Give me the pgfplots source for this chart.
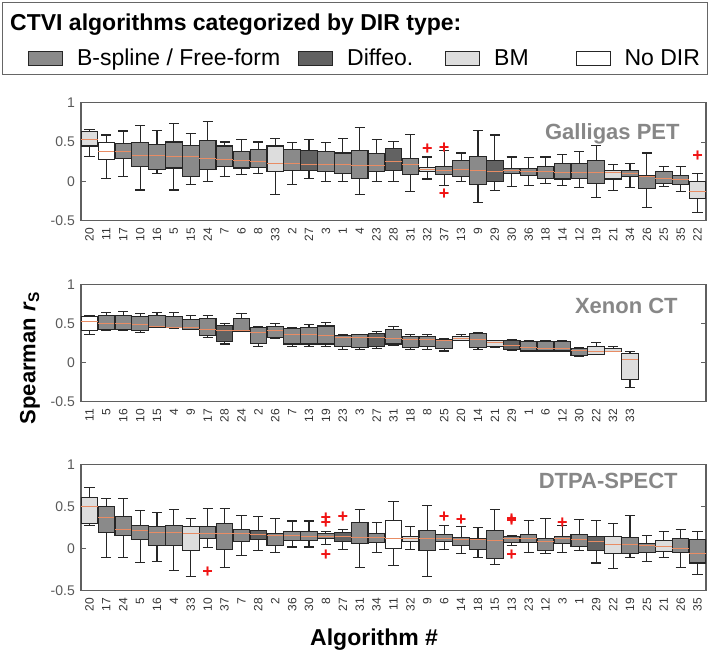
\documentclass[border=0pt]{standalone}
\usepackage{fontspec}
\setmainfont{Liberation Sans}
\usepackage{pgfplots}
\pgfplotsset{compat=1.18}
\usepgfplotslibrary{statistics}

\definecolor{bsp}{RGB}{138,138,138}
\definecolor{dif}{RGB}{98,98,98}
\definecolor{bm}{RGB}{221,221,221}
\definecolor{nod}{RGB}{255,255,255}
\definecolor{medc}{RGB}{232,140,100}
\definecolor{frm}{RGB}{95,95,95}
\definecolor{ttl}{RGB}{135,135,135}
\definecolor{outc}{RGB}{240,20,20}

% one prepared box: position, lower whisker, Q1, median, Q3, upper whisker, fill
\newcommand{\bx}[7]{\addplot[draw=black!85, line width=1.1pt,
  boxplot prepared={draw position=#1, lower whisker=#2, lower quartile=#3,
    median=#4, upper quartile=#5, upper whisker=#6,
    every box/.style={draw=black!85, fill=#7}}] coordinates {};}

\pgfplotsset{
  boxplot/draw direction=y,
  boxplot/box extend=0.98,
  boxplot/whisker extend=0.6,
  boxplot/every median/.style={draw=medc, line width=0.6pt},
  % outliers: red plus signs set as text at each data point
  outl/.style={only marks, mark=none, nodes near coords={+},
    every node near coord/.style={anchor=center, inner sep=0pt, text=outc,
      font=\bfseries\fontsize{18}{18}\selectfont, yshift=-1pt}},
  panel/.style={
    scale only axis, width=625pt, anchor=south west,
    xmin=0.5, xmax=37.5, ymin=-0.5, ymax=1,
    ytick={-0.5,0,0.5,1}, yticklabels={-0.5,0,0.5,1},
    axis line style={draw=frm, line width=1.1pt},
    tick align=inside, ytick pos=both, yticklabel pos=left,
    major tick length=5pt,
    y tick style={draw=frm, line width=0.9pt},
    xtick style={draw=none},
    xticklabel style={rotate=90, anchor=east, inner sep=0pt,
      font=\fontsize{12}{12}\selectfont, text=black!80},
    xticklabel shift=7pt,
    yticklabel style={inner sep=0pt, font=\fontsize{14}{14}\selectfont, text=black!65},
    yticklabel shift=6pt,
  },
}

\begin{document}
\begin{tikzpicture}
\path[use as bounding box] (0pt,0pt) rectangle (709pt,657pt);

% legend frame and heading
\draw[draw=black!60, line width=1pt] (2pt,582pt) rectangle (707pt,654pt);
\node[anchor=base west, inner sep=0pt, font=\bfseries\fontsize{23}{23}\selectfont]
  at (10pt,626pt) {CTVI algorithms categorized by DIR type:};

% ---------------- Galligas PET ----------------
\begin{axis}[panel, at={(81pt,436.3pt)}, height=118pt,
  xtick={1,...,37},
  xticklabels={20,11,17,10,16,5,15,24,7,6,8,33,2,27,3,1,4,23,28,31,32,37,13,9,29,30,36,18,14,12,19,21,34,26,25,35,22},
  legend image code/.code={\draw[#1, line width=0.9pt] (0pt,-7pt) rectangle (34pt,7pt);},
  legend columns=4,
  legend style={at={(-0.0848,1.379)}, anchor=west, draw=none, fill=none,
    inner sep=0pt, font=\fontsize{23}{23}\selectfont,
    /tikz/every odd column/.style={column sep=12pt},
    /tikz/column 2/.style={column sep=16pt},
    /tikz/column 4/.style={column sep=30pt},
    /tikz/column 6/.style={column sep=45pt}},
]
\addlegendimage{fill=bsp, draw=black!85}
\addlegendimage{fill=dif, draw=black!85}
\addlegendimage{fill=bm, draw=black!85}
\addlegendimage{fill=nod, draw=black!85}
\legend{B-spline / Free-form, Diffeo., BM, No DIR}
\bx{1}{0.32}{0.45}{0.53}{0.63}{0.66}{bm}
\bx{2}{0.04}{0.28}{0.38}{0.49}{0.59}{nod}
\bx{3}{0.06}{0.29}{0.38}{0.48}{0.64}{bsp}
\bx{4}{-0.11}{0.19}{0.33}{0.49}{0.71}{bsp}
\bx{5}{0.10}{0.15}{0.33}{0.47}{0.65}{bsp}
\bx{6}{-0.11}{0.17}{0.32}{0.50}{0.73}{bsp}
\bx{7}{-0.04}{0.06}{0.32}{0.46}{0.61}{bsp}
\bx{8}{0.00}{0.15}{0.29}{0.52}{0.76}{bsp}
\bx{9}{0.06}{0.19}{0.28}{0.45}{0.50}{bsp}
\bx{10}{0.09}{0.17}{0.27}{0.38}{0.53}{bsp}
\bx{11}{0.10}{0.18}{0.26}{0.41}{0.50}{bsp}
\bx{12}{-0.17}{0.13}{0.23}{0.45}{0.55}{bm}
\bx{13}{-0.04}{0.14}{0.23}{0.40}{0.49}{bsp}
\bx{14}{0.04}{0.14}{0.22}{0.39}{0.53}{dif}
\bx{15}{0.00}{0.12}{0.22}{0.38}{0.49}{bsp}
\bx{16}{0.00}{0.10}{0.22}{0.36}{0.55}{bsp}
\bx{17}{-0.17}{0.04}{0.21}{0.39}{0.69}{bsp}
\bx{18}{0.00}{0.12}{0.20}{0.35}{0.53}{bsp}
\bx{19}{0.00}{0.14}{0.26}{0.42}{0.51}{dif}
\bx{20}{-0.13}{0.09}{0.22}{0.29}{0.60}{bsp}
\bx{21}{0.03}{0.12}{0.15}{0.18}{0.31}{bm}
\bx{22}{-0.05}{0.09}{0.14}{0.19}{0.39}{bsp}
\bx{23}{0.00}{0.06}{0.15}{0.26}{0.36}{bsp}
\bx{24}{-0.27}{-0.04}{0.14}{0.32}{0.65}{bsp}
\bx{25}{-0.12}{0.00}{0.13}{0.27}{0.59}{dif}
\bx{26}{-0.06}{0.10}{0.14}{0.16}{0.31}{bsp}
\bx{27}{-0.05}{0.07}{0.13}{0.16}{0.30}{bsp}
\bx{28}{-0.03}{0.04}{0.13}{0.19}{0.31}{bsp}
\bx{29}{-0.05}{0.03}{0.12}{0.23}{0.34}{bsp}
\bx{30}{-0.08}{0.04}{0.12}{0.23}{0.38}{bsp}
\bx{31}{-0.20}{-0.03}{0.12}{0.27}{0.46}{bsp}
\bx{32}{-0.12}{0.03}{0.12}{0.14}{0.22}{bm}
\bx{33}{-0.08}{0.06}{0.10}{0.14}{0.23}{bsp}
\bx{34}{-0.33}{-0.09}{0.06}{0.08}{0.36}{bsp}
\bx{35}{-0.06}{-0.03}{0.04}{0.13}{0.19}{bsp}
\bx{36}{-0.13}{-0.04}{0.03}{0.07}{0.19}{bsp}
\bx{37}{-0.40}{-0.22}{-0.12}{0.00}{0.10}{bm}
\addplot[outl] coordinates {(21,0.42) (22,0.43) (22,-0.15) (37,0.33)};
\node[anchor=base east, inner sep=0pt, text=ttl, font=\bfseries\fontsize{22}{22}\selectfont]
  at (rel axis cs:0.958,0.684) {Galligas PET};
\end{axis}

% ---------------- Xenon CT ----------------
\begin{axis}[panel, at={(81pt,255.3pt)}, height=117pt,
  xtick={1,...,33},
  xticklabels={11,5,16,10,15,4,9,17,28,24,2,26,7,13,19,23,3,27,31,18,8,25,20,14,21,29,1,6,12,30,22,32,33},
  ylabel={Spearman \textit{r}\textsubscript{S}},
  ylabel style={at={(axis description cs:-0.0816,0.375)}, anchor=center,
    font=\bfseries\fontsize{22}{22}\selectfont},
]
\bx{1}{0.36}{0.41}{0.53}{0.59}{0.61}{nod}
\bx{2}{0.41}{0.42}{0.51}{0.60}{0.64}{bsp}
\bx{3}{0.41}{0.42}{0.51}{0.61}{0.66}{bsp}
\bx{4}{0.39}{0.41}{0.49}{0.59}{0.63}{bsp}
\bx{5}{0.45}{0.45}{0.47}{0.60}{0.64}{bsp}
\bx{6}{0.44}{0.45}{0.46}{0.59}{0.64}{bsp}
\bx{7}{0.42}{0.43}{0.46}{0.55}{0.60}{bsp}
\bx{8}{0.32}{0.35}{0.43}{0.57}{0.61}{bsp}
\bx{9}{0.24}{0.27}{0.42}{0.48}{0.50}{dif}
\bx{10}{0.40}{0.40}{0.41}{0.57}{0.63}{bsp}
\bx{11}{0.21}{0.25}{0.39}{0.45}{0.46}{bsp}
\bx{12}{0.31}{0.32}{0.42}{0.46}{0.50}{bsp}
\bx{13}{0.21}{0.24}{0.36}{0.44}{0.45}{bsp}
\bx{14}{0.21}{0.24}{0.36}{0.45}{0.49}{bsp}
\bx{15}{0.21}{0.24}{0.35}{0.47}{0.52}{bsp}
\bx{16}{0.17}{0.21}{0.33}{0.35}{0.36}{bsp}
\bx{17}{0.17}{0.20}{0.32}{0.36}{0.36}{bsp}
\bx{18}{0.18}{0.21}{0.32}{0.38}{0.40}{dif}
\bx{19}{0.22}{0.24}{0.31}{0.43}{0.46}{bsp}
\bx{20}{0.17}{0.19}{0.30}{0.34}{0.36}{bsp}
\bx{21}{0.17}{0.21}{0.30}{0.34}{0.36}{bsp}
\bx{22}{0.15}{0.18}{0.29}{0.30}{0.31}{bsp}
\bx{23}{0.29}{0.29}{0.31}{0.34}{0.36}{bm}
\bx{24}{0.17}{0.20}{0.30}{0.37}{0.39}{bsp}
\bx{25}{0.19}{0.21}{0.26}{0.29}{0.29}{bm}
\bx{26}{0.16}{0.17}{0.22}{0.28}{0.30}{dif}
\bx{27}{0.15}{0.15}{0.20}{0.27}{0.29}{bsp}
\bx{28}{0.15}{0.15}{0.19}{0.27}{0.29}{bsp}
\bx{29}{0.14}{0.15}{0.18}{0.27}{0.29}{bsp}
\bx{30}{0.08}{0.09}{0.16}{0.18}{0.19}{bsp}
\bx{31}{0.10}{0.11}{0.14}{0.21}{0.26}{bm}
\bx{32}{0.14}{0.14}{0.15}{0.18}{0.21}{bm}
\bx{33}{-0.32}{-0.22}{0.05}{0.12}{0.14}{bm}
\node[anchor=base east, inner sep=0pt, text=ttl, font=\bfseries\fontsize{22}{22}\selectfont]
  at (rel axis cs:0.955,0.758) {Xenon CT};
\end{axis}

% ---------------- DTPA-SPECT ----------------
\begin{axis}[panel, at={(81pt,66.3pt)}, height=126pt,
  xtick={1,...,37},
  xticklabels={20,17,24,5,16,4,33,10,37,7,28,2,36,30,8,27,31,34,11,32,9,6,14,18,15,13,23,12,3,1,29,22,19,25,21,26,35},
  xlabel={Algorithm \#},
  xlabel style={at={(axis description cs:0.469,-0.39)}, anchor=center,
    font=\bfseries\fontsize{23}{23}\selectfont},
]
\bx{1}{0.28}{0.30}{0.51}{0.61}{0.73}{bm}
\bx{2}{-0.10}{0.19}{0.37}{0.50}{0.60}{bsp}
\bx{3}{-0.10}{0.16}{0.23}{0.38}{0.60}{bsp}
\bx{4}{-0.16}{0.11}{0.22}{0.28}{0.46}{bsp}
\bx{5}{-0.15}{0.04}{0.20}{0.26}{0.43}{bsp}
\bx{6}{-0.26}{0.04}{0.19}{0.28}{0.47}{bsp}
\bx{7}{-0.33}{-0.02}{0.18}{0.26}{0.36}{bm}
\bx{8}{0.01}{0.12}{0.18}{0.26}{0.48}{bsp}
\bx{9}{-0.22}{-0.01}{0.18}{0.30}{0.48}{bsp}
\bx{10}{-0.08}{0.09}{0.18}{0.23}{0.39}{bsp}
\bx{11}{-0.02}{0.11}{0.17}{0.22}{0.38}{dif}
\bx{12}{-0.04}{0.04}{0.16}{0.18}{0.36}{bsp}
\bx{13}{0.02}{0.10}{0.16}{0.20}{0.33}{bsp}
\bx{14}{0.02}{0.10}{0.15}{0.20}{0.33}{bsp}
\bx{15}{0.05}{0.12}{0.15}{0.18}{0.21}{bsp}
\bx{16}{-0.01}{0.09}{0.15}{0.19}{0.23}{dif}
\bx{17}{-0.22}{0.06}{0.14}{0.31}{0.47}{bsp}
\bx{18}{-0.04}{0.07}{0.14}{0.18}{0.31}{bsp}
\bx{19}{-0.20}{0.00}{0.12}{0.34}{0.56}{nod}
\bx{20}{-0.01}{0.09}{0.12}{0.15}{0.26}{bm}
\bx{21}{-0.33}{-0.02}{0.12}{0.22}{0.51}{bsp}
\bx{22}{-0.01}{0.09}{0.12}{0.17}{0.28}{bsp}
\bx{23}{-0.06}{0.04}{0.11}{0.13}{0.26}{bsp}
\bx{24}{-0.10}{-0.01}{0.11}{0.12}{0.25}{bsp}
\bx{25}{-0.19}{-0.12}{0.10}{0.22}{0.47}{bsp}
\bx{26}{0.04}{0.07}{0.12}{0.14}{0.16}{bsp}
\bx{27}{-0.05}{0.07}{0.12}{0.17}{0.34}{bsp}
\bx{28}{-0.06}{-0.02}{0.09}{0.12}{0.36}{bsp}
\bx{29}{-0.04}{0.06}{0.12}{0.15}{0.28}{bsp}
\bx{30}{-0.02}{0.03}{0.11}{0.17}{0.35}{bsp}
\bx{31}{-0.17}{-0.02}{0.09}{0.15}{0.34}{dif}
\bx{32}{-0.24}{-0.06}{0.05}{0.15}{0.30}{bm}
\bx{33}{-0.11}{-0.06}{0.05}{0.13}{0.40}{bsp}
\bx{34}{-0.15}{-0.05}{0.04}{0.06}{0.16}{bsp}
\bx{35}{-0.10}{-0.03}{0.03}{0.10}{0.20}{bm}
\bx{36}{-0.22}{-0.05}{0.01}{0.12}{0.23}{bsp}
\bx{37}{-0.31}{-0.17}{-0.06}{0.11}{0.20}{bsp}
\addplot[outl] coordinates {(8,-0.27) (15,0.38) (15,0.31) (15,-0.07) (16,0.39)
  (22,0.39) (23,0.35) (26,0.36) (26,0.34) (26,-0.07) (29,0.32)};
\node[anchor=base east, inner sep=0pt, text=ttl, font=\bfseries\fontsize{22}{22}\selectfont]
  at (rel axis cs:0.955,0.815) {DTPA-SPECT};
\end{axis}
\end{tikzpicture}
\end{document}
